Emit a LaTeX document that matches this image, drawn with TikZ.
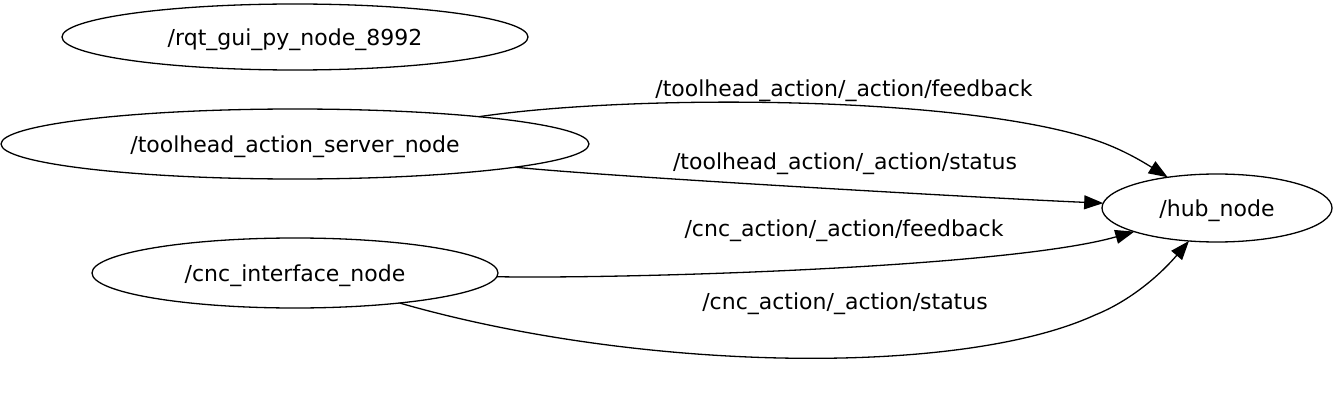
\documentclass[tikz,border=0pt]{standalone}
\usepackage{fontspec}
\setmainfont{DejaVu Sans}
\usetikzlibrary{arrows.meta,shapes.geometric}
\newcommand{\lowtext}[1]{\raisebox{-2.5pt}[\height][\depth]{#1}}
\begin{document}
\begin{tikzpicture}[x=1pt,y=-1pt,
  rosnode/.style={draw, ellipse, inner sep=0pt, outer sep=0pt, line width=1.3pt},
  topic/.style={line width=1.3pt, -{Triangle[length=19pt,width=14pt]}},
  lbl/.style={inner sep=0pt},
  every node/.append style={font=\fontsize{22}{26}\selectfont}]
\useasboundingbox (0,0) rectangle (1334,401);
\node[rosnode, minimum width=466pt, minimum height=66pt] (rqt) at (295,37) {\lowtext{/rqt\_gui\_py\_node\_8992}};
\node[rosnode, minimum width=588pt, minimum height=70pt] (tas) at (295,144) {\lowtext{/toolhead\_action\_server\_node}};
\node[rosnode, minimum width=406pt, minimum height=70pt] (cnc) at (295,273) {\lowtext{/cnc\_interface\_node}};
\node[rosnode, minimum width=230pt, minimum height=68pt] (hub) at (1217,208) {\lowtext{/hub\_node}};

\coordinate (m1) at (1095,140);
\coordinate (m4) at (1095,315);

\draw[topic] (tas) .. controls (632,94) and (960,95) .. (m1)
  .. controls (1120,148.3) and (1140,160) .. (hub);
\draw[topic] (tas) .. controls (599,176) and (983,198) .. (hub);
\draw[topic] (cnc) .. controls (620,279) and (1007,268) .. (hub);
\draw[topic] (cnc) .. controls (640,372) and (960,377) .. (m4)
  .. controls (1130,301) and (1160,275) .. (hub);

\node[lbl] (l1) at (844,90.5) {/toolhead\_action/\_action/feedback};
\node[lbl] (l2) at (845,163.5) {/toolhead\_action/\_action/status};
\node[lbl] (l3) at (844,230.5) {/cnc\_action/\_action/feedback};
\node[lbl] (l4) at (845,303.5) {/cnc\_action/\_action/status};
\end{tikzpicture}
\end{document}
